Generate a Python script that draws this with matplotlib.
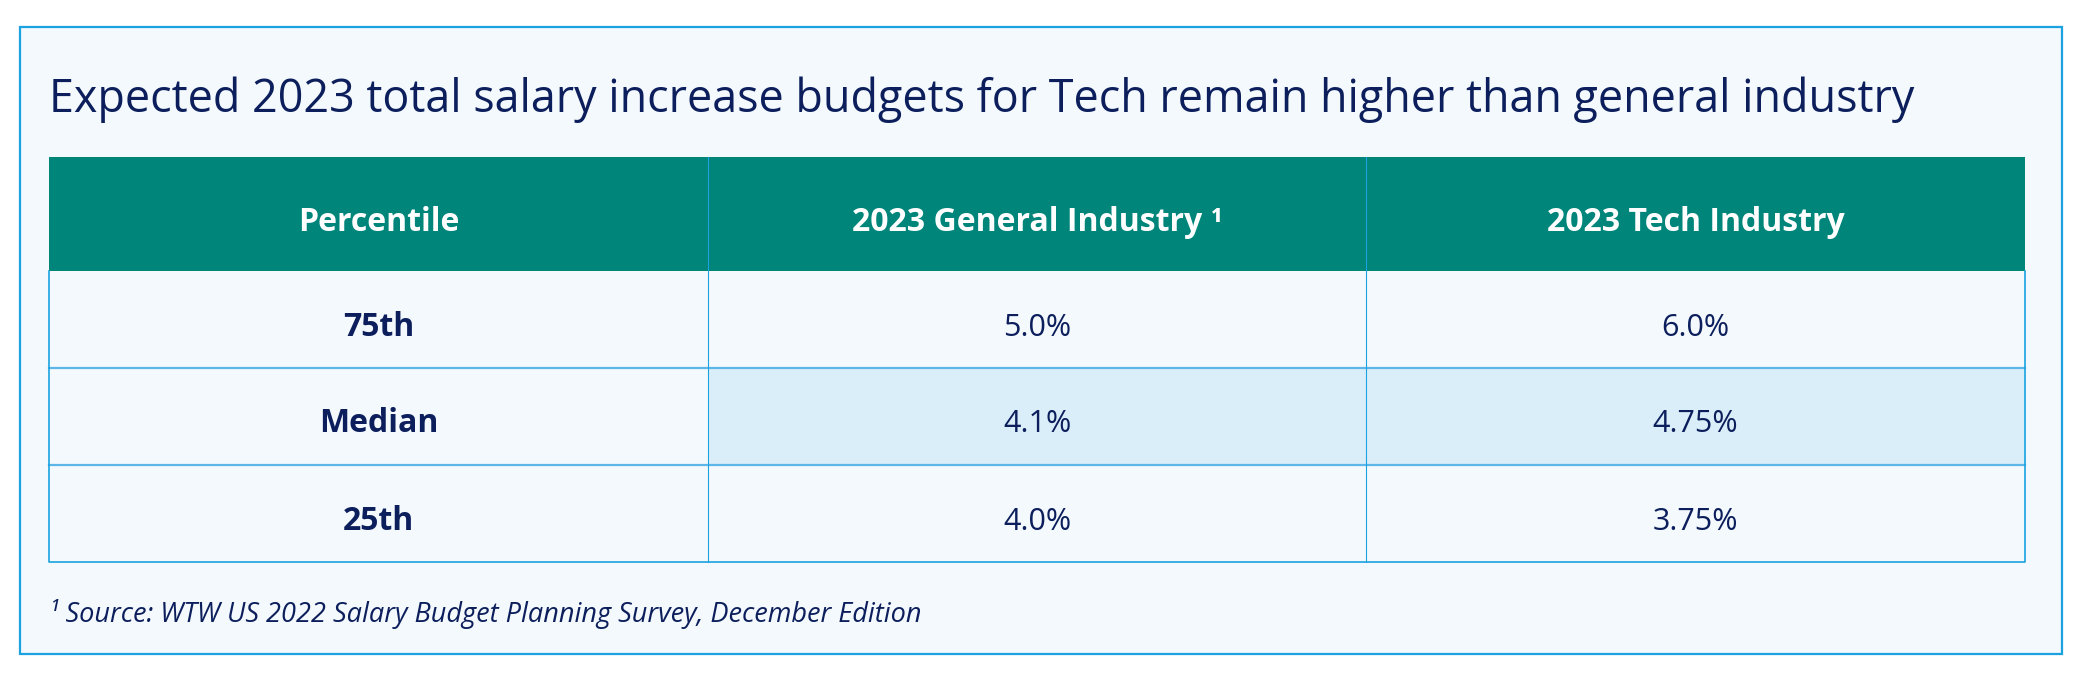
import matplotlib.pyplot as plt
from matplotlib.patches import Rectangle

# table content
title = "Expected 2023 total salary increase budgets for Tech remain higher than general industry"
col_headers = ["Percentile", "2023 General Industry \u00b9", "2023 Tech Industry"]
percentiles = ["75th", "Median", "25th"]
general_industry = ["5.0%", "4.1%", "4.0%"]
tech_industry = ["6.0%", "4.75%", "3.75%"]
highlight_row = "Median"
footnote = "\u00b9 Source: WTW US 2022 Salary Budget Planning Survey, December Edition"

W, H = 2083, 676
NAVY = "#0c1f5c"
TEAL = "#00857a"
BLUE = "#1aa3e0"
LINE = "#5db6e8"
PANEL = "#f4f9fd"
HILITE = "#daeefa"

plt.rcParams['font.family'] = ['Open Sans', 'DejaVu Sans']

fig = plt.figure(figsize=(W / 100, H / 100), dpi=100)
fig.patch.set_facecolor("white")
ax = fig.add_axes([0, 0, 1, 1])
ax.set_xlim(0, W)
ax.set_ylim(H, 0)
ax.axis("off")

# outer panel
ax.add_patch(Rectangle((20, 27), 2042, 627, facecolor=PANEL, edgecolor=BLUE, lw=1.6))

ax.text(49, 112, title, fontsize=32.3, color=NAVY, va="baseline", ha="left")

# table geometry (pixels)
x0, x1 = 49, 2025
col_w = (x1 - x0) / 3
head_top, head_bot = 157, 271
row_h = (562 - head_bot) / 3

ax.add_patch(Rectangle((x0, head_top), x1 - x0, head_bot - head_top,
                       facecolor=TEAL, edgecolor="none"))
for j, h in enumerate(col_headers):
    ax.text(x0 + col_w * (j + 0.5), (head_top + head_bot) / 2 + 17, h,
            fontsize=23, fontweight="bold", color="white", ha="center", va="baseline")

columns = [percentiles, general_industry, tech_industry]
for i, label in enumerate(percentiles):
    top = head_bot + i * row_h
    fc = HILITE if label == highlight_row else PANEL
    ax.add_patch(Rectangle((x0 + col_w, top), 2 * col_w, row_h, facecolor=fc, edgecolor="none"))
    for j, col in enumerate(columns):
        ax.text(x0 + col_w * (j + 0.5), top + row_h / 2 + 16, col[i],
                fontsize=23 if j == 0 else 22, fontweight="bold" if j == 0 else "normal",
                color=NAVY, ha="center", va="baseline")

# grid lines
for i in range(1, 3):
    y = head_bot + i * row_h
    ax.plot([x0, x1], [y, y], color=LINE, lw=1.6)
for j in range(1, 3):
    x = x0 + j * col_w
    ax.plot([x, x], [head_top, 562], color=BLUE, lw=0.8)
ax.plot([x0, x0, x1, x1], [head_bot, 562, 562, head_bot], color=BLUE, lw=1.2)

ax.text(49, 622, footnote, fontsize=19.5, style="italic", color=NAVY, ha="left", va="baseline")

fig.savefig("out.png", dpi=100, facecolor=fig.get_facecolor())
